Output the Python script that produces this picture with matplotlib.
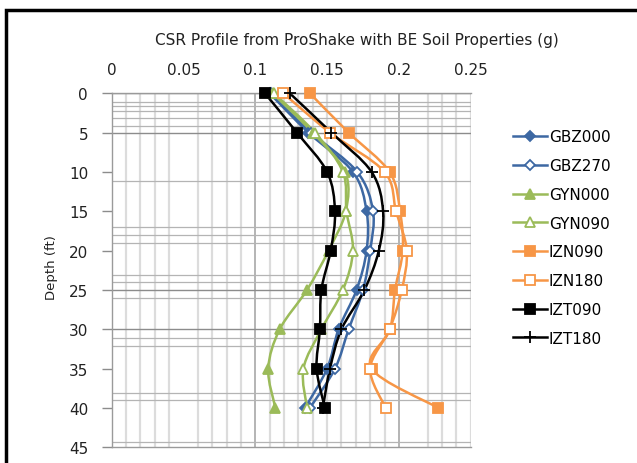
import numpy as np
import matplotlib
matplotlib.use("Agg")
import matplotlib.pyplot as plt
from matplotlib.path import Path
from matplotlib.patches import PathPatch, Rectangle
from matplotlib.lines import Line2D

# CSR values (g) at each depth (ft)
depths = [0, 5, 10, 15, 20, 25, 30, 35, 40]

gbz000 = [0.110, 0.137, 0.168, 0.1775, 0.1775, 0.1705, 0.158, 0.150, 0.1346]
gbz270 = [0.111, 0.139, 0.171, 0.182, 0.180, 0.175, 0.165, 0.1555, 0.138]
gyn000 = [0.112, 0.140, 0.1625, 0.163, 0.151, 0.136, 0.117, 0.109, 0.114]
gyn090 = [0.113, 0.1415, 0.161, 0.1635, 0.168, 0.161, 0.146, 0.1335, 0.136]
izn090 = [0.138, 0.165, 0.1935, 0.2008, 0.2027, 0.1973, 0.1938, 0.181, 0.2275]
izn180 = [0.1195, 0.152, 0.190, 0.198, 0.2055, 0.202, 0.1935, 0.180, 0.1908]
izt090 = [0.1067, 0.129, 0.150, 0.1555, 0.1525, 0.146, 0.145, 0.1427, 0.1485]
izt180 = [0.124, 0.153, 0.181, 0.189, 0.186, 0.176, 0.160, 0.152, 0.147]

series_names = ["GBZ000", "GBZ270", "GYN000", "GYN090",
                "IZN090", "IZN180", "IZT090", "IZT180"]
x_ticks = [0, 0.05, 0.1, 0.15, 0.2, 0.25]
y_ticks = [0, 5, 10, 15, 20, 25, 30, 35, 40, 45]

BLUE = "#3d68a3"
GREEN = "#9bbb59"
ORANGE = "#f79646"

styles = [
    dict(color=BLUE, marker="D", ms=5, mfc=BLUE),
    dict(color=BLUE, marker="D", ms=5, mfc="white"),
    dict(color=GREEN, marker="^", ms=7, mfc=GREEN),
    dict(color=GREEN, marker="^", ms=7, mfc="white"),
    dict(color=ORANGE, marker="s", ms=7, mfc=ORANGE),
    dict(color=ORANGE, marker="s", ms=7, mfc="white"),
    dict(color="black", marker="s", ms=7, mfc="black"),
    dict(color="black", marker="+", ms=8, mfc="black"),
]

# light grid lines
v_grid = [0.01, 0.02, 0.03, 0.04, 0.06, 0.07, 0.08, 0.09, 0.11, 0.12, 0.13,
          0.14, 0.15, 0.16, 0.17, 0.18, 0.19, 0.22, 0.23, 0.24, 0.25]
v_grid_dark = [0.1, 0.2]
h_grid = [1.1, 1.65, 2.2, 3.1, 4.1, 11.1, 17.0, 18.0, 19.0, 23.1, 24.0,
          26.0, 31.1, 32.1, 38.1, 39.0, 44.3]
h_grid_dark = [0, 5, 25, 30]


def smooth_path(xs, ys):
    # cubic bezier through the points, same idea as a spreadsheet smoothed line
    pts = np.column_stack([xs, ys])
    n = len(pts)
    verts = [pts[0]]
    codes = [Path.MOVETO]
    for i in range(n - 1):
        p0 = pts[i - 1] if i > 0 else pts[i]
        p1 = pts[i]
        p2 = pts[i + 1]
        p3 = pts[i + 2] if i + 2 < n else pts[i + 1]
        c1 = p1 + (p2 - p0) / 6.0
        c2 = p2 - (p3 - p1) / 6.0
        verts += [c1, c2, p2]
        codes += [Path.CURVE4] * 3
    return Path(verts, codes)


fig = plt.figure(figsize=(6.37, 4.64), dpi=100)
ax = fig.add_axes([111.7 / 637, 1 - 448.3 / 464, 359 / 637, 354 / 464])

for v in v_grid:
    ax.axvline(v, color="#dcdcdc", lw=1.6, zorder=0)
for v in v_grid_dark:
    ax.axvline(v, color="#a8a8a8", lw=1.2, zorder=0)
for h in h_grid:
    ax.axhline(h, color="#b4b4b4", lw=0.9, zorder=0)
for h in h_grid_dark:
    ax.axhline(h, color="#8c8c8c", lw=1.0, zorder=0)

all_series = [gbz000, gbz270, gyn000, gyn090, izn090, izn180, izt090, izt180]
handles = []
for vals, name, st in zip(all_series, series_names, styles):
    patch = PathPatch(smooth_path(vals, depths), fill=False,
                      edgecolor=st["color"], lw=1.8, zorder=2)
    ax.add_patch(patch)
    ax.plot(vals, depths, linestyle="none", marker=st["marker"],
            ms=st["ms"], mfc=st["mfc"], mec=st["color"], mew=1.3,
            zorder=3, clip_on=False)
    handles.append(Line2D([], [], color=st["color"], lw=1.8,
                          marker=st["marker"], ms=st["ms"], mfc=st["mfc"],
                          mec=st["color"], mew=1.3))

ax.set_xlim(0, 0.25)
ax.set_ylim(45, 0)
ax.xaxis.tick_top()
ax.set_xticks(x_ticks)
ax.set_xticklabels(["0", "0.05", "0.1", "0.15", "0.2", "0.25"])
ax.set_yticks(y_ticks)
ax.tick_params(axis="x", length=0, pad=12, labelsize=11, colors="#222222")
ax.tick_params(axis="y", length=7, width=1, color="#8c8c8c", pad=10,
               labelsize=11, labelcolor="#222222")
for s in ax.spines.values():
    s.set_color("#9a9a9a")
    s.set_linewidth(1.0)
ax.spines["right"].set_visible(False)

fig.text(52 / 637, 1 - 268 / 464, "Depth (ft)", rotation=90, fontsize=9.5,
         ha="center", va="center", color="#222222")
fig.text(357 / 637, 1 - 40 / 464,
         "CSR Profile from ProShake with BE Soil Properties (g)",
         fontsize=11, ha="center", va="center", color="#222222")

fig.legend(handles, series_names, loc="center left",
           bbox_to_anchor=(513 / 637, 1 - 238.5 / 464),
           bbox_transform=fig.transFigure, frameon=False, fontsize=11,
           handlelength=2.2, handletextpad=0.15, labelspacing=0.9,
           borderpad=0, borderaxespad=0)

fig.add_artist(Rectangle((6 / 637, -0.2), 1.2, 1.2 - 11 / 464 + 0.0,
                         transform=fig.transFigure, fill=False,
                         edgecolor="black", lw=2.5))

fig.savefig("out.png", dpi=100)
